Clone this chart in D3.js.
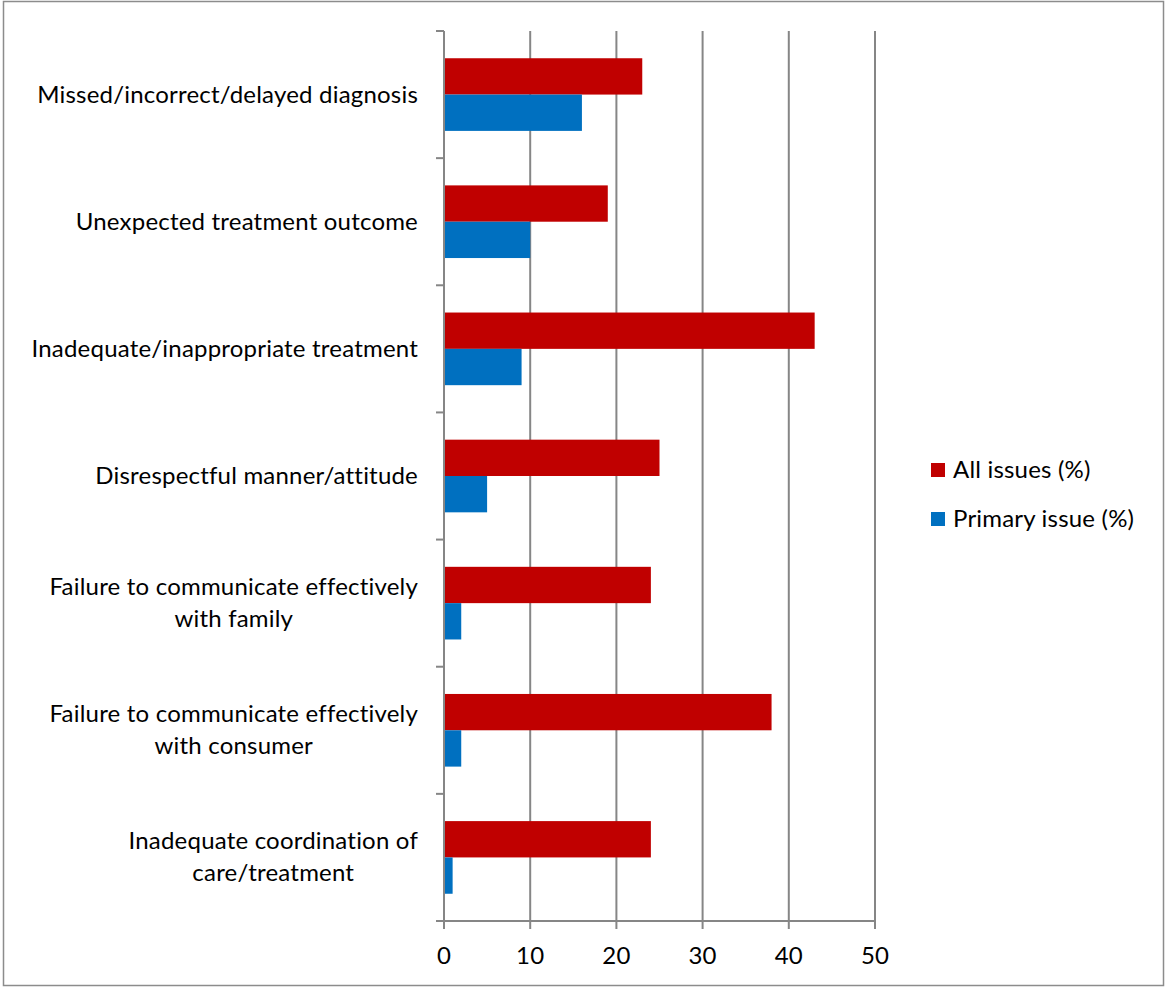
<!DOCTYPE html>
<html>
<head>
<meta charset="utf-8">
<script src="https://cdn.jsdelivr.net/npm/d3@7"></script>
<style>
  body { margin: 0; background: #fff; }
  text { font-family: Lato, "Open Sans", sans-serif; fill: #000; letter-spacing: 0.2px; }
</style>
</head>
<body>
<script>
// categories, top to bottom
const categories = [
  ['Missed/incorrect/delayed diagnosis'],
  ['Unexpected treatment outcome'],
  ['Inadequate/inappropriate treatment'],
  ['Disrespectful manner/attitude'],
  ['Failure to communicate effectively', 'with family'],
  ['Failure to communicate effectively', 'with consumer'],
  ['Inadequate coordination of', 'care/treatment']
];
const seriesNames = ['All issues (%)', 'Primary issue (%)'];
const allIssues = [23, 19, 43, 25, 24, 38, 24];
const primaryIssue = [16, 10, 9, 5, 2, 2, 1];
const xTicks = [0, 10, 20, 30, 40, 50];
const colors = ['#c00000', '#0070c0'];

const W = 1165, H = 987;
const margin = {top: 31, right: 290, bottom: 66, left: 444};
const fontSize = '24px';

const svg = d3.select('body').append('svg')
  .attr('width', W)
  .attr('height', H);

// chart border
svg.append('rect')
  .attr('x', 3.5).attr('y', 1.5)
  .attr('width', W - 5).attr('height', H - 3)
  .attr('fill', '#fff')
  .attr('stroke', '#8c8c8c')
  .attr('stroke-width', 1.5);

const x = d3.scaleLinear().domain([0, 50]).range([margin.left, 875]);
const y = d3.scaleBand().domain(d3.range(categories.length)).range([margin.top, 921]);
const inner = d3.scaleBand().domain([0, 1]).range([0, y.bandwidth()]).paddingOuter(0.75).paddingInner(0);

// gridlines
svg.append('g')
  .selectAll('line')
  .data(xTicks.slice(1))
  .enter().append('line')
  .attr('x1', (d) => x(d)).attr('x2', (d) => x(d))
  .attr('y1', margin.top).attr('y2', 929)
  .attr('stroke', '#868686')
  .attr('stroke-width', 2);

// bars
const rows = categories.map((c, i) => [allIssues[i], primaryIssue[i]]);
const grp = svg.append('g').selectAll('g')
  .data(rows)
  .enter().append('g')
  .attr('transform', (d, i) => `translate(0,${y(i)})`);

grp.selectAll('rect')
  .data((d) => d)
  .enter().append('rect')
  .attr('x', x(0))
  .attr('y', (d, j) => inner(j))
  .attr('width', (d) => x(d) - x(0))
  .attr('height', inner.bandwidth())
  .attr('fill', (d, j) => colors[j]);

// y axis line + ticks
const yTickPos = d3.range(categories.length + 1).map((i) => i < categories.length ? y(i) : y.range()[1]);
svg.append('line')
  .attr('x1', x(0)).attr('x2', x(0))
  .attr('y1', margin.top).attr('y2', 929)
  .attr('stroke', '#868686').attr('stroke-width', 2);
svg.append('g').selectAll('line')
  .data(yTickPos)
  .enter().append('line')
  .attr('x1', 436).attr('x2', x(0))
  .attr('y1', (d) => d).attr('y2', (d) => d)
  .attr('stroke', '#868686').attr('stroke-width', 2);

// x axis line + labels
svg.append('line')
  .attr('x1', 436).attr('x2', 876)
  .attr('y1', 921).attr('y2', 921)
  .attr('stroke', '#868686').attr('stroke-width', 2);
svg.append('g').selectAll('text')
  .data(xTicks)
  .enter().append('text')
  .attr('x', (d) => x(d))
  .attr('y', 964)
  .attr('text-anchor', 'middle')
  .style('font-size', fontSize)
  .text((d) => d);

// category labels: multi-line blocks, lines centred, block right-aligned
const labelRight = 418;
const lineH = 32;
categories.forEach((lines, i) => {
  const cy = y(i) + y.bandwidth() / 2;
  const t = svg.append('text')
    .style('font-size', fontSize)
    .attr('text-anchor', 'middle');
  const spans = lines.map((s, k) => t.append('tspan')
    .attr('y', cy + (k - (lines.length - 1) / 2) * lineH + 8)
    .text(s));
  const maxW = d3.max(spans, (s) => s.node().getComputedTextLength());
  spans.forEach((s) => s.attr('x', labelRight - maxW / 2));
});

// legend
const legend = svg.append('g').selectAll('g')
  .data(seriesNames)
  .enter().append('g')
  .attr('transform', (d, i) => `translate(931,${463 + i * 49})`);
legend.append('rect')
  .attr('width', 14).attr('height', 14)
  .attr('fill', (d, i) => colors[i]);
legend.append('text')
  .attr('x', 22).attr('y', 15)
  .style('font-size', fontSize)
  .text((d) => d);
</script>
</body>
</html>
